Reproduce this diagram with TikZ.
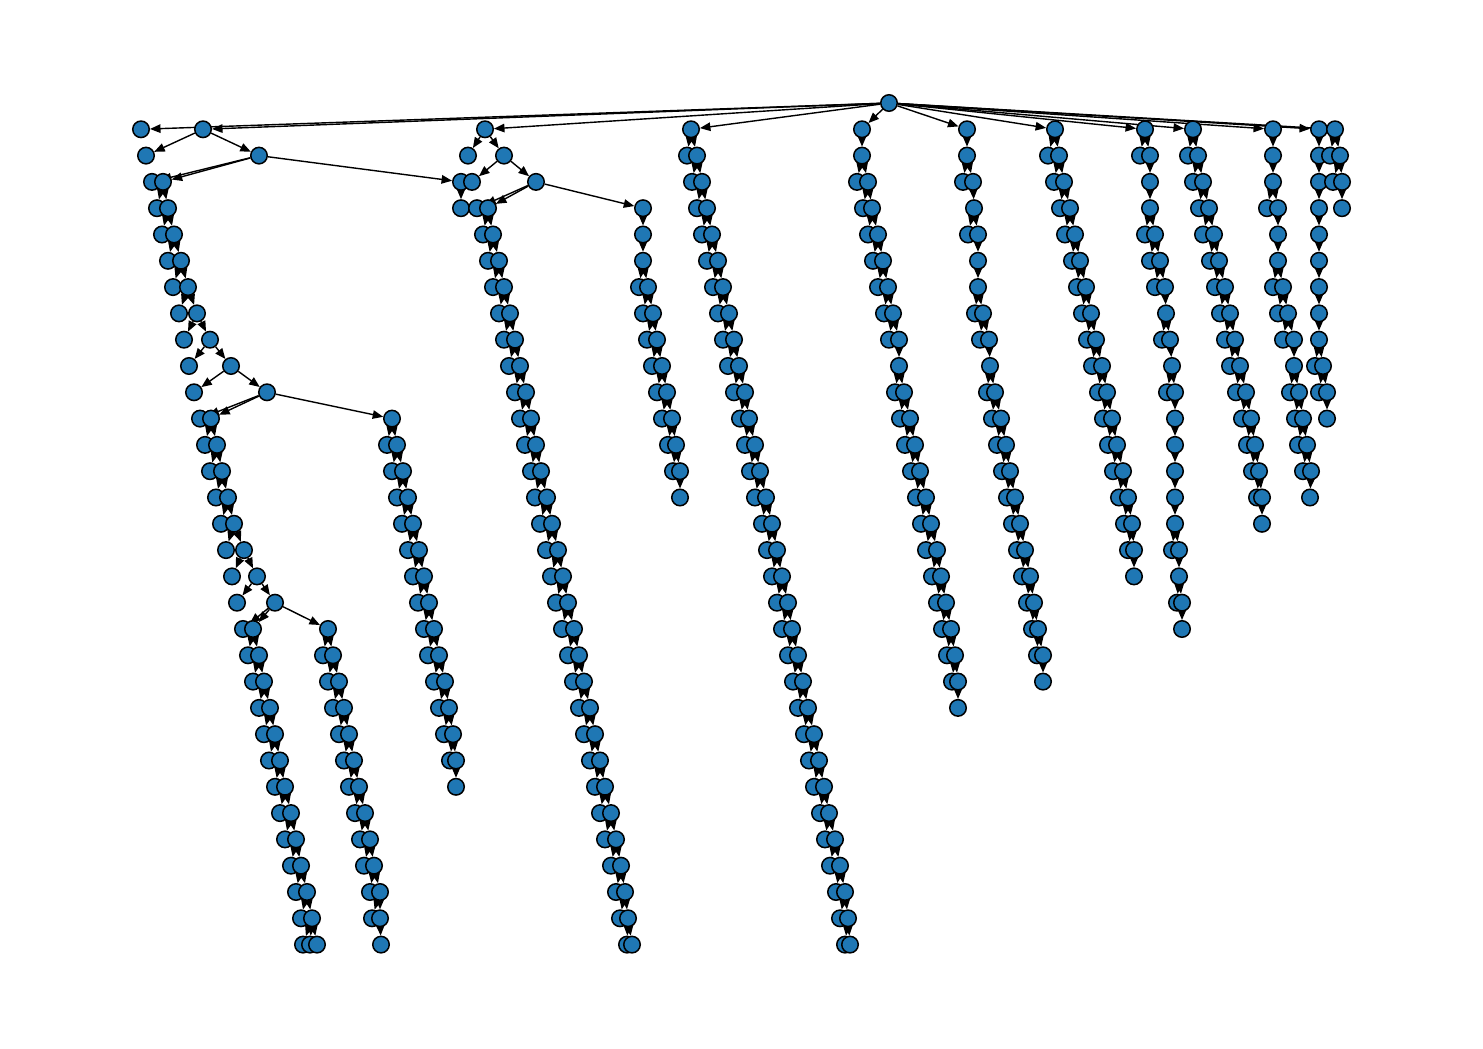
\documentclass[tikz,border=0pt]{standalone}
\usepackage{tikz}
\usetikzlibrary{arrows.meta}
\definecolor{nxblue}{HTML}{1F77B4}
\pgfdeclarelayer{edges}
\pgfsetlayers{edges,main}
\tikzset{
  dot/.style = {circle, draw=black, fill=nxblue, line width=1.5pt,
    inner sep=0pt, minimum size=16.5pt},
  link/.style = {->, line width=1.4pt}
}
% one spine per column, a leaf (or 0) beside each spine node
\newcommand{\chainof}[3]{%
  \foreach \sx/\lx [count=\k from #2] in #3{%
    \pgfmathsetmacro{\yy}{103+26.3*\k}
    \ifnum\lx>0 \node[dot] (#1l\k) at (\lx,\yy) {};\fi
    \node[dot] (#1s\k) at (\sx,\yy) {};
  }}
\newcommand{\linksof}[3]{%
  \foreach \sx/\lx [count=\k from #2] in #3{%
    \ifnum\k>#2
      \pgfmathtruncatemacro{\up}{\k-1}
      \draw[link] (#1s\up) -- (#1s\k);
      \ifnum\lx>0 \draw[link] (#1s\up) -- (#1l\k);\fi
    \fi
  }}
\newcommand{\dataY}{141/0}
\newcommand{\dataP}{461/0, 461/0}
\newcommand{\dataZ}{203/0, 259/146, 163/152, 168/157, 174/162, 181/168, 188/173,
  197/179, 210/184, 231/189, 267/194, 211/200, 217/205, 222/210, 228/216,
  234/221, 244/226, 257/232, 275/237, 253/243, 259/248, 264/253, 270/259,
  275/264, 280/269, 285/275, 291/280, 296/285, 301/291, 307/296, 312/301,
  317/310}
\newcommand{\dataQ}{392/0, 397/387, 403/392, 408/397, 413/402, 419/408, 424/413,
  429/418, 434/424, 439/428, 445/434, 449/439, 453/444, 456/450, 456/0}
\newcommand{\dataN}{328/0, 333/323, 339/328, 344/333, 349/339, 354/344, 359/349,
  365/355, 370/360, 374/364, 380/370, 380/372, 381/0}
\newcommand{\dataR}{485/0, 504/468, 536/472, 488/477, 493/483, 499/488, 504/493,
  510/499, 515/504, 520/509, 526/515, 531/520, 536/525, 541/531, 547/535,
  552/540, 558/546, 563/551, 568/556, 574/562, 579/568, 584/573, 590/579,
  595/584, 600/590, 605/595, 611/600, 616/605, 621/611, 625/616, 628/620,
  632/627}
\newcommand{\dataS}{643/0, 643/0, 643/0, 648/639, 653/643, 657/647, 662/652,
  667/657, 672/662, 676/668, 680/673, 680/0}
\newcommand{\dataT}{691/0, 697/687, 702/692, 707/697, 712/702, 718/707, 723/713,
  729/718, 734/723, 739/728, 745/734, 749/740, 755/745, 760/750, 766/755,
  772/762, 777/767, 782/772, 788/777, 792/782, 798/788, 803/793, 808/798,
  814/804, 819/809, 824/814, 829/820, 835/825, 840/830, 845/836, 848/840,
  850/845}
\newcommand{\dataA}{862/0, 862/0, 868/857, 872/863, 878/868, 883/873, 888/878,
  893/884, 899/889, 899/0, 904/895, 910/900, 915/905, 920/911, 926/916,
  931/921, 937/926, 941/932, 946/937, 951/942, 955/947, 958/952, 958/0}
\newcommand{\dataB}{967/0, 967/0, 973/963, 974/0, 978/968, 978/0, 978/0, 983/975,
  989/980, 990/0, 995/987, 1001/992, 1006/997, 1010/1002, 1015/1007,
  1020/1012, 1025/1017, 1030/1022, 1034/1027, 1038/1032, 1043/1037, 1043/0}
\newcommand{\dataC}{1055/0, 1059/1048, 1064/1054, 1070/1060, 1075/1065, 1080/1072,
  1086/1077, 1091/1082, 1096/1087, 1102/1092, 1107/1098, 1112/1103,
  1117/1108, 1123/1113, 1128/1119, 1132/1124, 1134/1128, 1134/0}
\newcommand{\dataD}{1145/0, 1150/1140, 1150/0, 1150/0, 1155/1145, 1160/1150,
  1165/1155, 1166/0, 1170/1162, 1172/0, 1175/1167, 1175/0, 1175/0, 1175/0,
  1175/0, 1175/0, 1179/1172, 1179/0, 1182/1177, 1182/0}
\newcommand{\dataE}{1193/0, 1198/1188, 1203/1193, 1209/1199, 1214/1203, 1219/1210,
  1225/1215, 1230/1220, 1235/1225, 1240/1230, 1246/1236, 1251/1242,
  1255/1247, 1259/1252, 1262/1257, 1262/0}
\newcommand{\dataF}{1273/0, 1273/0, 1273/0, 1278/1267, 1278/0, 1278/0, 1283/1273,
  1288/1278, 1294/1283, 1294/0, 1299/1290, 1303/1295, 1307/1298, 1311/1303,
  1310/0}
\newcommand{\dataG}{1319/0, 1319/0, 1319/0, 1319/0, 1319/0, 1319/0, 1319/0,
  1319/0, 1319/0, 1323/1315, 1327/1319, 1327/0}
\newcommand{\dataH}{1335/0, 1340/1330, 1342/1333, 1342/0}

\begin{document}
\begin{tikzpicture}[x=1pt, y=-1pt, >={Triangle[length=10.5pt,width=8.5pt]}]
\useasboundingbox (0,0) rectangle (1483,1049);

\node[dot] (root) at (889,103) {};
\chainof{Y}{1}{\dataY}
\chainof{P}{3}{\dataP}
\node[dot] (end) at (303,944.6) {};
\chainof{Z}{1}{\dataZ}
\chainof{Q}{12}{\dataQ}
\chainof{N}{20}{\dataN}
\chainof{R}{1}{\dataR}
\chainof{S}{4}{\dataS}
\chainof{T}{1}{\dataT}
\chainof{A}{1}{\dataA}
\chainof{B}{1}{\dataB}
\chainof{C}{1}{\dataC}
\chainof{D}{1}{\dataD}
\chainof{E}{1}{\dataE}
\chainof{F}{1}{\dataF}
\chainof{G}{1}{\dataG}
\chainof{H}{1}{\dataH}

\begin{pgfonlayer}{edges}
\foreach \c in {Y,Z,R,T,A,B,C,D,E,F,G,H}
  \draw[link] (root) -- (\c s1);
\linksof{P}{3}{\dataP}
\linksof{Z}{1}{\dataZ}
\linksof{Q}{12}{\dataQ}
\linksof{N}{20}{\dataN}
\linksof{R}{1}{\dataR}
\linksof{S}{4}{\dataS}
\linksof{T}{1}{\dataT}
\linksof{A}{1}{\dataA}
\linksof{B}{1}{\dataB}
\linksof{C}{1}{\dataC}
\linksof{D}{1}{\dataD}
\linksof{E}{1}{\dataE}
\linksof{F}{1}{\dataF}
\linksof{G}{1}{\dataG}
\linksof{H}{1}{\dataH}
\draw[link] (Zs2) -- (Ps3);
\draw[link] (Zs11) -- (Qs12);
\draw[link] (Zs19) -- (Ns20);
\draw[link] (Zs31) -- (end);
\draw[link] (Rs3) -- (Ss4);
\end{pgfonlayer}
\end{tikzpicture}
\end{document}
